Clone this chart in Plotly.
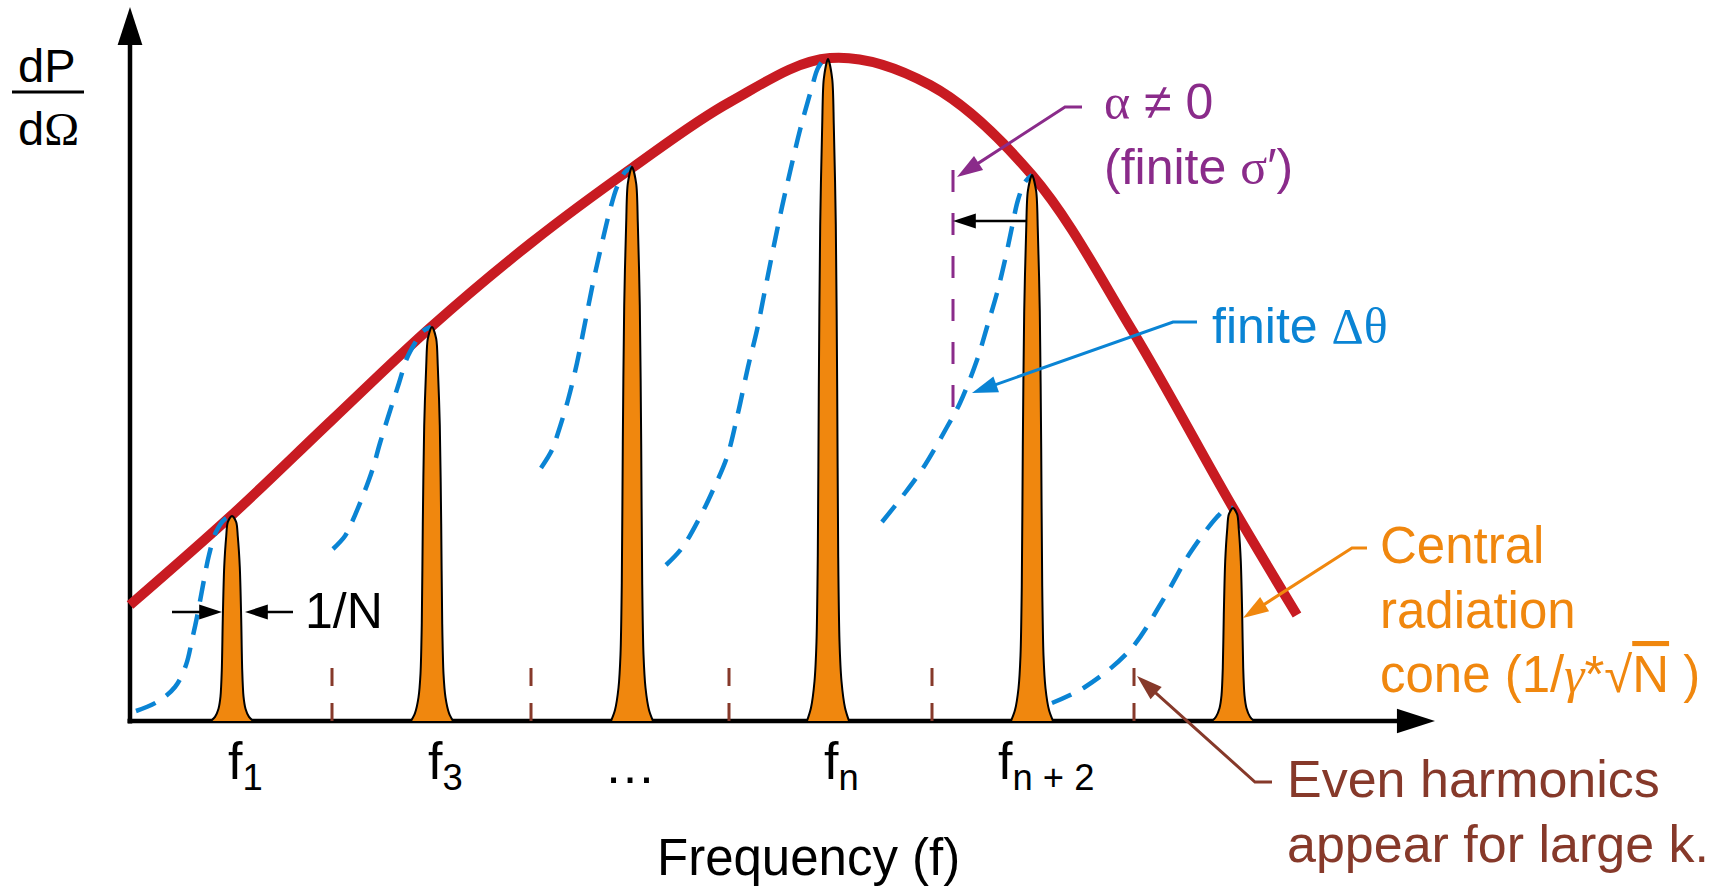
import math
import plotly.graph_objects as go

# ---------------- data (x: harmonic units, y: intensity units) ----------------
harm_x = [1.00, 3.00, 5.00, 6.96, 9.00, 11.01]
harm_h = [2.05, 3.94, 5.54, 6.62, 5.46, 2.13]
even_x = [2.00, 3.99, 5.97, 8.00, 10.02]
even_top = 0.56

# shape of one narrow harmonic line: relative height -> half width
prof_r = [0.0, 0.02, 0.06, 0.12, 0.25, 0.50, 0.75, 0.90, 0.97, 1.0]
prof_w = [0.21, 0.17, 0.135, 0.115, 0.102, 0.092, 0.078, 0.058, 0.042, 0.0]

# envelope (red)
env_x = [-0.02, 1.00, 2.00, 2.99, 3.99, 5.00, 5.98, 6.98, 7.98, 9.00, 10.00, 11.00, 11.65]
env_y = [1.16, 2.06, 3.01, 3.94, 4.78, 5.53, 6.19, 6.63, 6.36, 5.46, 3.91, 2.15, 1.06]

# broadened (finite delta-theta) flanks, blue dashed
blue1_x = [0.04, 0.25, 0.43, 0.54, 0.60, 0.65, 0.71, 0.77, 0.84, 0.93, 1.00]
blue1_y = [0.10, 0.19, 0.34, 0.56, 0.81, 1.04, 1.36, 1.66, 1.89, 2.02, 2.05]
blue3_x = [2.01, 2.13, 2.20, 2.30, 2.40, 2.48, 2.57, 2.67, 2.75, 2.83, 2.91, 2.99]
blue3_y = [1.72, 1.85, 1.99, 2.23, 2.50, 2.78, 3.07, 3.38, 3.63, 3.78, 3.90, 3.94]
blue5_x = [4.09, 4.20, 4.26, 4.36, 4.45, 4.53, 4.61, 4.70, 4.78, 4.85, 4.93, 5.00]
blue5_y = [2.53, 2.71, 2.88, 3.21, 3.58, 3.98, 4.38, 4.78, 5.11, 5.34, 5.49, 5.54]
blue7_x = [5.34, 5.50, 5.68, 5.81, 5.95, 6.06, 6.16, 6.25, 6.33, 6.41, 6.50, 6.58, 6.68, 6.80, 6.86, 6.93, 6.96]
blue7_y = [1.56, 1.73, 2.04, 2.31, 2.64, 3.08, 3.54, 3.91, 4.31, 4.71, 5.14, 5.49, 5.91, 6.34, 6.53, 6.62, 6.62]
blue9_x = [7.50, 7.73, 7.93, 8.15, 8.28, 8.45, 8.55, 8.65, 8.73, 8.80, 8.86, 8.93, 9.00]
blue9_y = [1.99, 2.28, 2.56, 2.94, 3.18, 3.61, 3.94, 4.28, 4.61, 4.94, 5.21, 5.39, 5.46]
blue11_x = [9.20, 9.53, 9.98, 10.31, 10.58, 10.85, 10.94, 11.01]
blue11_y = [0.18, 0.34, 0.71, 1.21, 1.68, 2.04, 2.12, 2.13]
blue_curves = [(blue1_x, blue1_y), (blue3_x, blue3_y), (blue5_x, blue5_y),
               (blue7_x, blue7_y), (blue9_x, blue9_y), (blue11_x, blue11_y)]

# alpha != 0 shifted edge
shift_x = 8.21
shift_y = [3.14, 5.58]

tick_labels = ["f<sub>1</sub>", "f<sub>3</sub>", "…", "f<sub>n</sub>", "f<sub>n + 2</sub>"]
tick_pos = [0.94, 2.94, 4.98, 6.90, 8.64]

# ---------------- colours / fonts ----------------
RED = "#C81B22"
BLUE = "#0A84D4"
ORANGE = "#F0870E"
BROWN = "#86392A"
PURPLE = "#8A2B8A"
FONT = "Arial, 'Liberation Sans', sans-serif"
SERIF = "Liberation Serif, Times New Roman, serif"
PX = 100.0  # pixels per data unit (both axes)


def greek(ch, italic=False):
    s = "<span style=\"font-family:%s\">%s</span>" % (SERIF, ch)
    return "<i>" + s + "</i>" if italic else s


fig = go.Figure()


def arrow_line(xs, ys, color, width, size):
    """polyline whose last point carries an arrow head (marker 'arrow')."""
    tx, ty = xs[-1], ys[-1]
    dx, dy = tx - xs[-2], ty - ys[-2]
    d = math.hypot(dx, dy)
    ux, uy = dx / d, dy / d
    head = 0.95 * size / PX
    bx, by = tx - ux * 0.6 * head, ty - uy * 0.6 * head
    fig.add_trace(go.Scatter(x=list(xs[:-1]) + [bx], y=list(ys[:-1]) + [by], mode="lines",
                             line=dict(color=color, width=width), hoverinfo="skip"))
    fig.add_trace(go.Scatter(x=[tx - ux * 0.05, tx], y=[ty - uy * 0.05, ty], mode="markers",
                             marker=dict(symbol="arrow", size=[0, size], angleref="previous",
                                         color=color, opacity=1, line=dict(width=0)),
                             hoverinfo="skip"))


# axes
arrow_line([-0.02, -0.02], [-0.025, 7.14], "black", 4.5, 40)
arrow_line([-0.045, 13.03], [0, 0], "black", 4.5, 40)

# envelope
fig.add_trace(go.Scatter(x=env_x, y=env_y, mode="lines",
                         line=dict(color=RED, width=10, shape="spline", smoothing=1.0),
                         hoverinfo="skip"))

# blue dashed flanks
for bx_, by_ in blue_curves:
    fig.add_trace(go.Scatter(x=bx_, y=by_, mode="lines",
                             line=dict(color=BLUE, width=4.5, dash="21px,13px", shape="spline", smoothing=1.0),
                             hoverinfo="skip"))

# even harmonic marks
for ex in even_x:
    fig.add_trace(go.Scatter(x=[ex, ex], y=[0, even_top], mode="lines",
                             line=dict(color=BROWN, width=3, dash="18px,17px"), hoverinfo="skip"))

# alpha shifted edge (purple dashed)
fig.add_trace(go.Scatter(x=[shift_x, shift_x], y=shift_y, mode="lines",
                         line=dict(color=PURPLE, width=3, dash="22px,21px"), hoverinfo="skip"))

# harmonic lines (orange)
for c, h in zip(harm_x, harm_h):
    xs = [c - w for w in prof_w] + [c + w for w in reversed(prof_w[:-1])]
    ys = [r * h for r in prof_r] + [r * h for r in reversed(prof_r[:-1])]
    fig.add_trace(go.Scatter(x=xs, y=ys, mode="lines", fill="toself", fillcolor=ORANGE,
                             line=dict(color="black", width=2, shape="spline", smoothing=0.8),
                             hoverinfo="skip"))

# leaders: horizontal stub + diagonal to the tip
leaders = [
    ([9.50, 9.33, 8.25], [6.14, 6.14, 5.44], PURPLE),
    ([10.65, 10.41, 8.40], [3.99, 3.99, 3.28], BLUE),
    ([12.35, 12.20, 11.11], [1.73, 1.73, 1.03], ORANGE),
    ([11.40, 11.23, 10.05], [-0.61, -0.61, 0.45], BROWN),
]
for lx, ly, col in leaders:
    arrow_line(lx, ly, col, 3, 27)

# black dimension arrows
arrow_line([0.40, 0.90], [1.09, 1.09], "black", 2.5, 24)
arrow_line([1.61, 1.13], [1.09, 1.09], "black", 2.5, 24)
arrow_line([8.95, 8.21], [5.00, 5.00], "black", 2.5, 24)

# fraction bar of dP/dOmega
fig.add_trace(go.Scatter(x=[-1.20, -0.48], y=[6.29, 6.29], mode="lines",
                         line=dict(color="black", width=3), hoverinfo="skip"))

ann = []


def text(x, y, s, color="black", size=50, xanchor="left", yanchor="middle"):
    ann.append(dict(x=x, y=y, xref="x", yref="y", text=s, showarrow=False,
                    xanchor=xanchor, yanchor=yanchor,
                    font=dict(family=FONT, size=size, color=color)))


text(-0.85, 6.555, "dP", size=47, xanchor="center")
text(-0.84, 5.925, "d" + greek("Ω"), size=47, xanchor="center")

for lab, px in zip(tick_labels, tick_pos):
    if lab == "…":
        text(px, -0.44, lab, size=52, xanchor="center")
    else:
        text(px, -0.44, lab, size=52, xanchor="left")

text(6.765, -1.668, "Frequency (f)", size=51, xanchor="center", yanchor="bottom")
text(1.71, 1.105, "1/N", size=50)
text(9.70, 6.195, greek("α") + " ≠ 0", color=PURPLE, size=50)
text(9.70, 5.545, "(finite " + greek("σ") + "′)", color=PURPLE, size=50)
text(10.78, 3.955, "finite " + greek("Δθ"), color=BLUE, size=50)
text(12.46, 1.755, "Central", color=ORANGE, size=51)
text(12.46, 1.105, "radiation", color=ORANGE, size=51)
text(12.46, 0.465, "cone (1/" + greek("γ", italic=True) + "*√<span style='text-decoration:overline'>N</span> )",
     color=ORANGE, size=51)
text(11.53, -0.575, "Even harmonics", color=BROWN, size=52)
text(11.53, -1.225, "appear for large k.", color=BROWN, size=52)

fig.update_layout(
    width=1725, height=888,
    margin=dict(l=0, r=0, t=0, b=0),
    paper_bgcolor="white", plot_bgcolor="white",
    showlegend=False,
    font=dict(family=FONT),
    xaxis=dict(range=[-1.32, 15.93], visible=False, fixedrange=True),
    yaxis=dict(range=[-1.67, 7.21], visible=False, fixedrange=True),
    annotations=ann,
)

fig.write_html("out.html", config={"displayModeBar": False},
               post_script="document.body.style.margin='0';document.body.style.overflow='hidden';")
